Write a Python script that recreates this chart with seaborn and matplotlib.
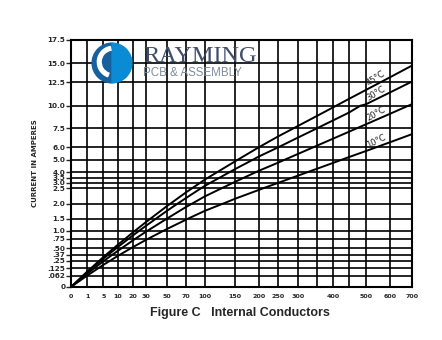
import numpy as np
import pandas as pd
import matplotlib
matplotlib.use("Agg")
import matplotlib.pyplot as plt
from matplotlib.patches import Wedge
import seaborn as sns

# ---------------- data (read where each curve meets the ruled lines) ----------------
area_45C = [0, 0.70, 1, 1.89, 4.0, 5, 5.84, 8.52, 10, 14.5, 20, 21.4, 30, 33.8, 50, 52.8, 70, 79.7, 92.9,
            100, 105.4, 120, 150, 154.3, 200, 250, 288.5, 300, 350, 400, 410, 450, 500, 561.4, 600, 700]
current_45C = [0, 0.062, 0.099, 0.125, 0.25, 0.326, 0.37, 0.5, 0.60, 0.75, 0.958, 1.0, 1.37, 1.5, 1.94, 2.0,
               2.37, 2.5, 3.0, 3.3, 3.5, 4.0, 4.90, 5.0, 6.01, 6.84, 7.5, 7.78, 8.87, 9.81, 10.0, 10.73,
               11.67, 12.5, 13.14, 14.68]

area_30C = [0, 0.74, 1, 2.18, 4.41, 5, 6.57, 9.41, 10, 16.7, 20, 24.7, 30, 38.9, 50, 60.4, 70, 94, 100,
            109.5, 124.3, 140.2, 150, 186, 200, 250, 300, 350, 400, 450, 484, 500, 600, 700]
current_30C = [0, 0.062, 0.092, 0.125, 0.25, 0.292, 0.37, 0.5, 0.538, 0.75, 0.867, 1.0, 1.21, 1.5, 1.78,
               2.0, 2.19, 2.5, 2.71, 3.0, 3.5, 4.0, 4.27, 5.0, 5.28, 5.98, 6.78, 7.5, 8.37, 9.24, 10.0,
               10.14, 11.40, 12.58]

area_20C = [0, 0.82, 1, 2.72, 5, 5.28, 7.97, 10, 12.3, 20, 21.3, 30, 31.5, 50, 70, 78.7, 100, 127.6, 146.6,
            150, 168.2, 192.7, 200, 250, 265.6, 300, 340, 350, 400, 450, 473.3, 500, 600, 685, 700]
current_20C = [0, 0.062, 0.082, 0.125, 0.24, 0.25, 0.37, 0.453, 0.5, 0.72, 0.75, 0.97, 1.0, 1.52, 1.90,
               2.0, 2.24, 2.5, 3.0, 3.10, 3.5, 4.0, 4.13, 4.77, 5.0, 5.49, 6.0, 6.13, 6.68, 7.23, 7.5,
               7.93, 9.09, 10.0, 10.15]

area_10C = [0, 1, 3.72, 5, 7.31, 10, 10.9, 18.4, 20, 30, 31.6, 46.6, 50, 70, 72.1, 100, 128.5, 150, 200,
            211, 250, 285.3, 300, 323.5, 350, 400, 425, 450, 500, 543.7, 600, 700]
current_10C = [0, 0.066, 0.125, 0.181, 0.25, 0.353, 0.37, 0.5, 0.538, 0.726, 0.75, 1.0, 1.08, 1.47, 1.5,
               1.77, 2.0, 2.17, 2.45, 2.5, 2.97, 3.5, 3.70, 4.0, 4.29, 4.76, 5.0, 5.23, 5.70, 6.0, 6.39, 7.03]

series_labels = ["45°C", "30°C", "20°C", "10°C"]

x_tick_values = [0, 1, 5, 10, 20, 30, 50, 70, 100, 150, 200, 250, 300, 350, 400, 450, 500, 600, 700]
x_tick_labels = ["0", "1", "5", "10", "20", "30", "50", "70", "100", "150", "200", "250", "300", "", "400", "", "500", "600", "700"]
y_tick_values = [0, 0.062, 0.125, 0.25, 0.37, 0.50, 0.75, 1.0, 1.5, 2.0, 2.5, 3.0, 3.5, 4.0, 5.0, 6.0, 7.5, 10.0, 12.5, 15.0, 17.5]
y_tick_labels = ["0", ".062", ".125", ".25", ".37", ".50", ".75", "1.0", "1.5", "2.0", "2.5", "3.0", "3.5", "4.0", "5.0", "6.0", "7.5", "10.0", "12.5", "15.0", "17.5"]

# ---------------- scale geometry (nomogram spacing of the printed grid) ----------------
x_grid_pos = [0, 16, 32, 46.7, 62, 74.7, 96, 114.7, 133.4, 164, 187.7, 206.4, 227, 245.7, 261.7, 277.7, 294.4, 318.4, 340.4]
y_grid_pos = [0, 10.7, 18.4, 26, 31.7, 38.4, 47.7, 56, 67.7, 82.7, 98.4, 104, 109, 114.4, 126.7, 139.4, 158.4, 181, 204.4, 223.4, 246.7]

def xf(v):
    return np.interp(v, x_tick_values, x_grid_pos)
def xi(p):
    return np.interp(p, x_grid_pos, x_tick_values)
def yf(v):
    return np.interp(v, y_tick_values, y_grid_pos)
def yi(p):
    return np.interp(p, y_grid_pos, y_tick_values)

series = [(area_45C, current_45C), (area_30C, current_30C), (area_20C, current_20C), (area_10C, current_10C)]
rows = []
for lab, (xs, ys) in zip(series_labels, series):
    for xv, yv in zip(xs, ys):
        rows.append({"area": xv, "current": yv, "rise": lab})
df = pd.DataFrame(rows)

sns.set_style("white")
plt.rcParams["font.family"] = ["DejaVu Sans"]

W, H = 442, 340
fig = plt.figure(figsize=(W / 100, H / 100), dpi=100)
fig.patch.set_facecolor("white")
L, R, T, B = 71.3, 411.7, 40, 286.7
ax = fig.add_axes([L / W, 1 - B / H, (R - L) / W, (B - T) / H])

sns.lineplot(data=df, x="area", y="current", hue="rise", palette=["black"] * 4,
             legend=False, ax=ax, linewidth=1.4, sort=False, estimator=None, zorder=3)

ax.set_xscale("function", functions=(xf, xi))
ax.set_yscale("function", functions=(yf, yi))
ax.set_xlim(0, 700)
ax.set_ylim(0, 17.5)
ax.set_xticks(x_tick_values)
ax.set_xticklabels(x_tick_labels)
ax.set_yticks(y_tick_values)
ax.set_yticklabels(y_tick_labels)
ax.minorticks_off()
ax.grid(True, color="black", linewidth=1.2)
ax.set_axisbelow(True)
for s in ax.spines.values():
    s.set_visible(True)
    s.set_color("black")
    s.set_linewidth(1.5)
ax.tick_params(axis="x", length=0, pad=5, labelsize=4.6)
ax.tick_params(axis="y", length=3.5, width=1.0, pad=0.8, labelsize=5.2, left=True)
for t in ax.get_xticklabels() + ax.get_yticklabels():
    t.set_fontweight("bold")
ax.set_xlabel("")
ax.set_ylabel("CURRENT IN AMPERES", fontsize=5, fontweight="bold", labelpad=7)

# curve labels sitting on their lines
label_x = 553
label_rot = [33, 31, 29, 26]
for lab, (xs, ys), rot in zip(series_labels, series, label_rot):
    ly = np.interp(label_x, xs, ys)
    ax.annotate(lab, xy=(label_x, ly), xytext=(0, 0.8), textcoords="offset points",
                fontsize=6, rotation=rot, ha="center", va="bottom",
                rotation_mode="anchor", zorder=4)

# caption
fig.text(240 / W, 1 - 313 / H, "Figure C   Internal Conductors", fontsize=9,
         fontweight="bold", family=["Liberation Sans", "DejaVu Sans"], ha="center", va="center")

# watermark logo
lax = fig.add_axes([(112 - 23) / W, 1 - (63 + 23) / H, 46 / W, 46 / H])
lax.set_xlim(-1.1, 1.1)
lax.set_ylim(-1.1, 1.1)
lax.set_aspect("equal")
lax.axis("off")
lax.add_patch(Wedge((0, 0), 0.95, 90, 270, color="#17609e"))
lax.add_patch(Wedge((0, 0), 0.95, 270, 90, color="#0a8bd3"))
lax.add_patch(Wedge((0.05, 0.05), 0.75, 100, 250, width=0.18, color="white"))
fig.text(143 / W, 1 - 56 / H, "RAYMING", fontsize=17.5, color="#3f4f6a",
         family=["Liberation Serif", "DejaVu Serif"], ha="left", va="center", zorder=10)
fig.text(143 / W, 1 - 73 / H, "PCB & ASSEMBLY", fontsize=8.3, color="#7f8b99",
         family=["Liberation Sans", "DejaVu Sans"], ha="left", va="center", zorder=10)

fig.savefig("out.png", dpi=100, facecolor="white")
